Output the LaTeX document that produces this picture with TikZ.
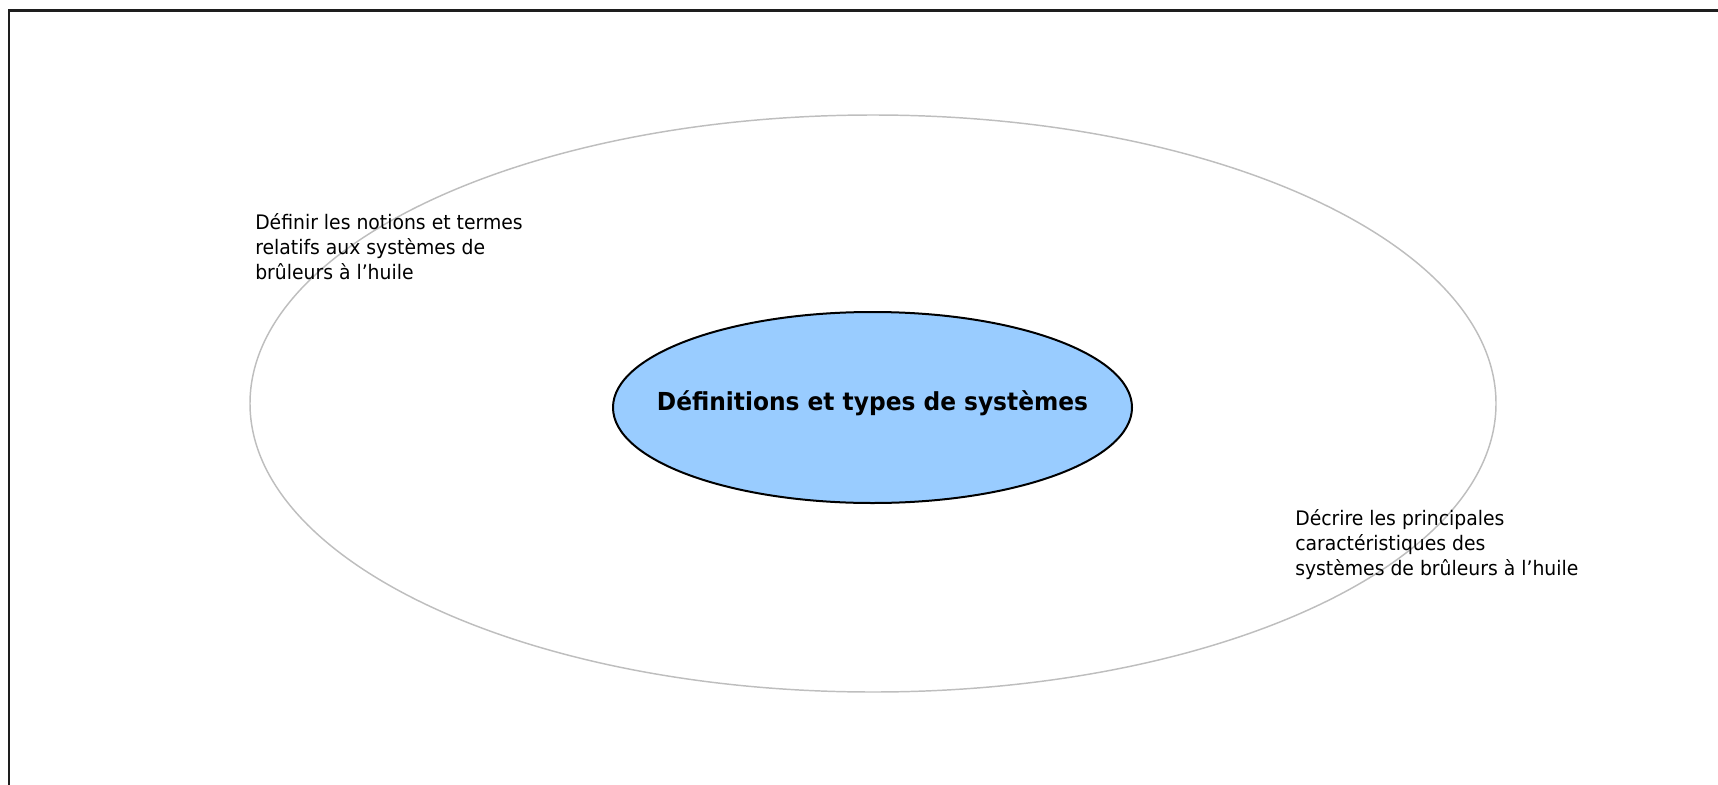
\documentclass[tikz,border=0pt]{standalone}
\usepackage{fontspec}
\setmainfont{DejaVu Sans}[FakeStretch=0.94]
\usetikzlibrary{shapes.geometric}
\definecolor{inner}{RGB}{153,204,255}
\definecolor{outer}{RGB}{190,190,190}
\definecolor{frame}{RGB}{30,30,30}
\tikzset{
  lbl/.style={anchor=base west, inner sep=0pt, font=\fontsize{15}{18}\selectfont},
}
\begin{document}
\begin{tikzpicture}[x=0.75pt,y=-0.75pt]
\useasboundingbox (0,0) rectangle (1718,785);
\coordinate (fb) at (9,790);
\coordinate (ftl) at (9,10.5);
\coordinate (fr) at (1725,10.5);
\draw[line width=1.9pt, frame] (fb) -- (ftl) -- (fr);
\node[ellipse, draw=outer, line width=1.1pt, minimum width=1246*0.75pt, minimum height=577*0.75pt, inner sep=0pt] (out) at (873,403.5) {};
\node[ellipse, draw=black, fill=inner, line width=1.5pt, minimum width=519*0.75pt, minimum height=191*0.75pt, inner sep=0pt] (in) at (872.5,407.5) {};
\node[font=\fontsize{18.6}{22}\selectfont\bfseries, inner sep=0pt, anchor=base] (title) at (872.5,410) {Définitions et types de systèmes};
\node[lbl] (l1a) at (255,229) {Définir les notions et termes};
\node[lbl] (l1b) at (255,254) {relatifs aux systèmes de};
\node[lbl] (l1c) at (255,279) {brûleurs à l’huile};
\node[lbl] (l2a) at (1295,525) {Décrire les principales};
\node[lbl] (l2b) at (1295,550) {caractéristiques des};
\node[lbl] (l2c) at (1295,575) {systèmes de brûleurs à l’huile};
\end{tikzpicture}
\end{document}
